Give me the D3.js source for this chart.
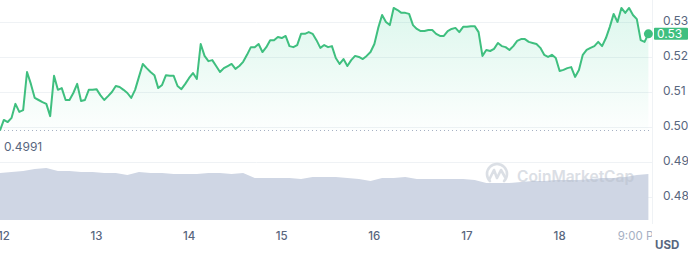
<!DOCTYPE html>
<html>
<head>
<meta charset="utf-8">
<script src="https://cdn.jsdelivr.net/npm/d3@7"></script>
<style>
  html, body { margin: 0; padding: 0; background: #fff; }
  svg { display: block; font-family: Inter, "Noto Sans", sans-serif; }
</style>
</head>
<body>
<div id="chart"></div>
<script>
// hourly price, starting 11th 23:00
const prices = [
  0.4991, 0.5021, 0.5015, 0.5027, 0.5067, 0.5044, 0.5049, 0.5158, 0.5124, 0.5084,
  0.5078, 0.5072, 0.5067, 0.5032, 0.5147, 0.5107, 0.5112, 0.5078, 0.5078, 0.5098,
  0.5124, 0.5075, 0.5078, 0.5107, 0.5107, 0.5109, 0.5092, 0.5078, 0.5089, 0.5101,
  0.5118, 0.5115, 0.5107, 0.5098, 0.5084, 0.5107, 0.5144, 0.5181, 0.5169, 0.5158,
  0.5149, 0.5112, 0.5121, 0.5149, 0.5147, 0.5147, 0.5118, 0.5109, 0.5124, 0.5141,
  0.5155, 0.5138, 0.5238, 0.5204, 0.5189, 0.5192, 0.5175, 0.5158, 0.5169, 0.5175,
  0.5181, 0.5167, 0.5175, 0.5187, 0.5207, 0.5229, 0.5229, 0.5238, 0.5215, 0.5229,
  0.5249, 0.5249, 0.5258, 0.5255, 0.5261, 0.5232, 0.5229, 0.5235, 0.5267, 0.5267,
  0.5272, 0.5267, 0.5249, 0.5227, 0.5235, 0.5229, 0.5232, 0.5198, 0.5181, 0.5195,
  0.5175, 0.5192, 0.5204, 0.5201, 0.5195, 0.5204, 0.5215, 0.5238, 0.5284, 0.5321,
  0.5301, 0.5292, 0.5341, 0.5335, 0.5327, 0.5327, 0.5324, 0.5292, 0.5281, 0.5275,
  0.5275, 0.5278, 0.5278, 0.5267, 0.5261, 0.5261, 0.5275, 0.5281, 0.5284, 0.5272,
  0.5287, 0.5287, 0.5289, 0.5289, 0.5272, 0.5204, 0.5221, 0.5218, 0.5224, 0.5241,
  0.5232, 0.5229, 0.5221, 0.5232, 0.5247, 0.5252, 0.5252, 0.5244, 0.5241, 0.5238,
  0.5227, 0.5207, 0.5201, 0.5207, 0.5198, 0.5161, 0.5164, 0.5169, 0.5172, 0.5144,
  0.5164, 0.5207, 0.5221, 0.5227, 0.5232, 0.5244, 0.5232, 0.5255, 0.5287, 0.5324,
  0.5301, 0.5341, 0.5327, 0.5341, 0.5321, 0.5309, 0.5249, 0.5244, 0.5267
];

// 24h volume (millions), every 3 hours
const volumes = [
  47, 48, 49, 51, 52, 49, 49, 48, 48, 47, 47, 45, 48, 47, 47, 46, 46, 46, 47, 47,
  46, 47, 42, 42, 42, 42, 41, 43, 43, 43, 42, 41, 39, 42, 42, 43, 41, 41, 41, 41,
  41, 40, 37, 37, 37, 38, 39, 39, 40, 40, 40, 41, 42, 42, 43, 45, 46
];

const priceTicks = [0.53, 0.52, 0.51, 0.50, 0.49, 0.48];
const dayTicks = [12, 13, 14, 15, 16, 17, 18];
const openPrice = 0.4991;

const width = 688;
const height = 254;
const plotRight = 652;
const green = '#3fbf7f';
const textGray = '#58667e';

const hour = 3600 * 1000;
const t0 = Date.UTC(2024, 0, 11, 23, 0);

const x = d3.scaleUtc()
  .domain([new Date(t0), new Date(t0 + 168 * hour)])
  .range([0, 648.4]);
const y = d3.scaleLinear().domain([0.48, 0.53]).range([197.3, 22.3]);
const yVol = d3.scaleLinear().domain([0, 60]).range([220, 160]);

const priceData = prices.map((p, i) => ({ t: new Date(t0 + i * hour), v: p }));
const volData = volumes.map((v, i) => ({ t: new Date(t0 + i * 3 * hour), v: v }));

const svg = d3.select('#chart').append('svg')
  .attr('width', width)
  .attr('height', height);

const defs = svg.append('defs');
const grad = defs.append('linearGradient')
  .attr('id', 'areaFill')
  .attr('gradientUnits', 'userSpaceOnUse')
  .attr('x1', 0).attr('x2', 0)
  .attr('y1', 5).attr('y2', y(openPrice));
grad.append('stop').attr('offset', '0%').attr('stop-color', '#16c784').attr('stop-opacity', 0.15);
grad.append('stop').attr('offset', '100%').attr('stop-color', '#16c784').attr('stop-opacity', 0.01);

defs.append('clipPath').attr('id', 'plotClip')
  .append('rect').attr('x', 0).attr('y', 0).attr('width', plotRight).attr('height', height);

// grid
svg.append('g')
  .selectAll('line')
  .data(priceTicks)
  .join('line')
  .attr('x1', 0).attr('x2', plotRight)
  .attr('y1', d => Math.round(y(d)) + 0.5)
  .attr('y2', d => Math.round(y(d)) + 0.5)
  .attr('stroke', '#eff2f5')
  .attr('stroke-width', 1);

svg.append('line')
  .attr('x1', plotRight + 0.5).attr('x2', plotRight + 0.5)
  .attr('y1', 0).attr('y2', 224)
  .attr('stroke', '#eff2f5');

// volume
const volArea = d3.area()
  .x(d => x(d.t))
  .y0(yVol(0))
  .y1(d => yVol(d.v));

svg.append('path')
  .datum(volData)
  .attr('d', volArea)
  .attr('fill', '#cfd6e4');

// watermark
const wm = svg.append('g').attr('transform', 'translate(485,165)').attr('opacity', 0.5);
const logo = d3.path();
logo.arc(12, 9, 10, Math.PI * 0.75, Math.PI * 2.25);
wm.append('path').attr('d', logo.toString())
  .attr('fill', 'none').attr('stroke', '#b8c0cc').attr('stroke-width', 2.6)
  .attr('stroke-linecap', 'round');
wm.append('path')
  .attr('d', d3.line()([[4.5, 14], [9, 5], [12, 13], [16, 5], [20, 12]]))
  .attr('fill', 'none').attr('stroke', '#b8c0cc').attr('stroke-width', 2.6)
  .attr('stroke-linejoin', 'round').attr('stroke-linecap', 'round');
wm.append('text')
  .attr('x', 32).attr('y', 16.5)
  .attr('font-size', 15.5).attr('font-weight', 600)
  .attr('fill', '#b8c0cc')
  .text('CoinMarketCap');

// price area + line
const area = d3.area()
  .x(d => x(d.t))
  .y0(y(openPrice))
  .y1(d => y(d.v));

svg.append('path')
  .datum(priceData)
  .attr('d', area)
  .attr('fill', 'url(#areaFill)');

svg.append('line')
  .attr('x1', 0).attr('x2', plotRight)
  .attr('y1', Math.round(y(openPrice)) + 0.5)
  .attr('y2', Math.round(y(openPrice)) + 0.5)
  .attr('stroke', '#a6b0c3')
  .attr('stroke-width', 1)
  .attr('stroke-dasharray', '1,3');

svg.append('text')
  .attr('x', 4).attr('y', 150.5)
  .attr('font-size', 12).attr('fill', textGray)
  .text(openPrice.toString());

const line = d3.line()
  .x(d => x(d.t))
  .y(d => y(d.v));

svg.append('path')
  .datum(priceData)
  .attr('d', line)
  .attr('fill', 'none')
  .attr('stroke', green)
  .attr('stroke-width', 2)
  .attr('stroke-linejoin', 'round');

const last = priceData[priceData.length - 1];
svg.append('circle')
  .attr('cx', x(last.t)).attr('cy', y(last.v))
  .attr('r', 4.5)
  .attr('fill', green);

// right axis
svg.append('g')
  .selectAll('text')
  .data(priceTicks)
  .join('text')
  .attr('x', 663)
  .attr('y', d => y(d) + 2.5)
  .attr('font-size', 12)
  .attr('fill', textGray)
  .text(d => d3.format('.2f')(d));

svg.append('rect')
  .attr('x', 654).attr('y', y(last.v) - 6)
  .attr('width', 34).attr('height', 12)
  .attr('rx', 1)
  .attr('fill', green);
svg.append('text')
  .attr('x', 657).attr('y', y(last.v) + 4.3)
  .attr('font-size', 12)
  .attr('fill', '#fff')
  .text(d3.format('.2f')(last.v));

// x axis labels
const xLabels = svg.append('g').attr('clip-path', 'url(#plotClip)');
xLabels.selectAll('text.day')
  .data(dayTicks)
  .join('text')
  .attr('class', 'day')
  .attr('x', d => x(new Date(Date.UTC(2024, 0, d))))
  .attr('y', 240)
  .attr('text-anchor', 'middle')
  .attr('font-size', 11.5)
  .attr('font-weight', 500)
  .attr('fill', textGray)
  .text(d => d);

xLabels.append('text')
  .attr('x', x(new Date(Date.UTC(2024, 0, 18, 21))))
  .attr('y', 240)
  .attr('text-anchor', 'middle')
  .attr('font-size', 11.5)
  .attr('fill', '#a6b0c3')
  .text('9:00 PM');

svg.append('text')
  .attr('x', 655).attr('y', 248.5)
  .attr('font-size', 11.5)
  .attr('font-weight', 700)
  .attr('fill', textGray)
  .text('USD');
</script>
</body>
</html>
